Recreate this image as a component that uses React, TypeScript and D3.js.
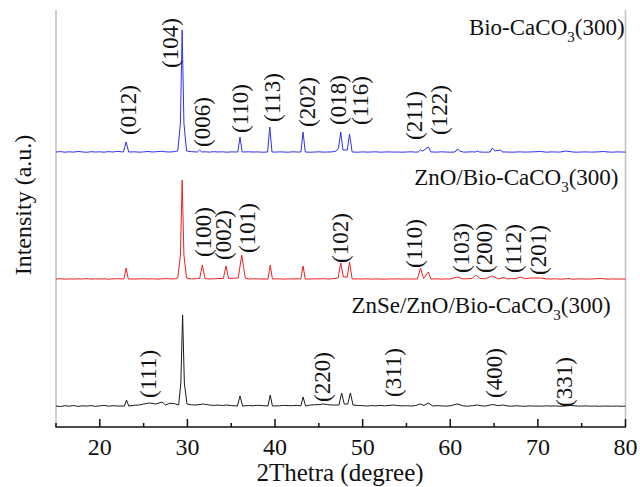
import React from "react";
import * as d3 from "d3";

// 2θ range and ticks
const xDomain = [15, 80];
const majorTicks = [20, 30, 40, 50, 60, 70, 80];
const minorTicks = [15, 25, 35, 45, 55, 65, 75];

// Baselines sampled every 0.5° from 15 to 80 (a.u.)
const blueBase = [
  1.0, 1.4, 0.8, 1.2, 0.9, 1.5, 1.1, 0.7, 1.3, 1.0,
  1.2, 0.8, 1.4, 1.0, 1.6, 1.1, 0.9, 1.3, 1.2, 0.8,
  1.1, 1.5, 1.0, 1.3, 1.7, 1.2, 1.0, 1.4, 0.9, 1.2,
  1.0, 1.3, 0.8, 1.1, 1.2, 0.9, 1.3, 1.0, 1.2, 0.8,
  1.1, 1.0, 1.3, 0.9, 1.2, 1.0, 1.1, 0.8, 1.0, 1.2,
  0.9, 1.1, 1.0, 0.8, 1.2, 1.0, 0.9, 1.1, 0.8, 1.0,
  1.2, 0.9, 1.0, 1.1, 0.8, 1.0, 0.9, 1.2, 1.0, 0.8,
  1.1, 0.9, 1.0, 1.2, 0.8, 1.0, 1.1, 0.9, 1.0, 0.8,
  1.0, 1.2, 0.9, 1.0, 0.8, 1.1, 1.0, 0.9, 1.2, 1.0,
  0.8, 1.0, 1.1, 0.9, 1.0, 1.2, 0.9, 1.0, 0.8, 1.1,
  1.0, 0.9, 1.2, 1.0, 0.8, 1.0, 1.1, 0.9, 1.0, 1.2,
  0.9, 1.0, 0.8, 1.1, 1.0, 0.9, 1.0, 1.2, 1.0, 0.8,
  1.0, 1.1, 0.9, 1.0, 1.2, 0.9, 1.0, 0.8, 1.1, 1.0, 0.9,
];
const redBase = [
  1.0, 1.3, 0.8, 1.1, 0.9, 1.2, 1.0, 1.4, 0.9, 1.1,
  1.0, 1.2, 0.8, 1.1, 1.3, 1.0, 0.9, 1.2, 1.0, 1.1,
  1.3, 1.0, 1.2, 0.9, 1.1, 1.4, 1.2, 1.0, 1.3, 1.1,
  1.2, 1.0, 1.4, 1.1, 1.3, 1.0, 1.2, 1.5, 1.1, 1.3,
  1.2, 1.4, 1.1, 1.3, 1.0, 1.2, 1.1, 1.0, 1.3, 1.1,
  1.0, 1.2, 0.9, 1.1, 1.0, 1.2, 0.9, 1.1, 1.0, 1.2,
  1.1, 1.3, 1.0, 1.2, 1.4, 1.1, 1.0, 1.2, 0.9, 1.1,
  1.0, 1.2, 0.9, 1.1, 1.0, 0.8, 1.1, 1.0, 1.2, 0.9,
  1.1, 1.0, 1.3, 1.0, 1.2, 1.1, 1.0, 1.2, 0.9, 1.1,
  1.0, 1.2, 1.4, 1.1, 1.3, 1.5, 1.2, 1.0, 1.3, 1.1,
  1.2, 1.0, 1.3, 1.1, 1.4, 1.2, 1.0, 1.3, 1.1, 1.0,
  1.2, 0.9, 1.1, 1.0, 1.2, 0.9, 1.0, 1.1, 0.8, 1.0,
  1.1, 0.9, 1.0, 1.2, 0.9, 1.0, 0.8, 1.1, 0.9, 1.0, 1.0,
];
const blackBase = [
  2.0, 1.5, 2.3, 1.8, 2.5, 1.6, 2.2, 1.9, 2.4, 1.7,
  2.1, 2.6, 1.8, 2.3, 2.0, 2.5, 1.9, 2.4, 2.8, 3.0,
  3.5, 3.8, 4.2, 4.0, 4.5, 4.2, 4.8, 4.4, 4.0, 3.8,
  3.5, 3.2, 3.0, 3.4, 2.8, 3.0, 2.6, 2.9, 2.5, 2.7,
  2.4, 2.8, 2.3, 2.6, 2.5, 2.2, 2.7, 2.4, 2.6, 2.3,
  2.5, 2.2, 2.6, 2.4, 2.3, 2.7, 2.5, 2.8, 3.0, 3.2,
  3.4, 3.6, 3.3, 3.0, 2.8, 2.6, 2.4, 2.7, 2.2, 2.5,
  2.3, 2.0, 2.4, 2.1, 2.6, 2.2, 2.5, 2.8, 2.4, 2.1,
  2.3, 2.0, 2.4, 2.1, 2.5, 2.2, 2.0, 2.4, 2.1, 1.9,
  2.2, 2.0, 2.4, 2.1, 1.8, 2.3, 2.0, 2.2, 1.9, 2.1,
  2.0, 2.3, 1.9, 2.1, 1.8, 2.2, 2.0, 1.7, 2.1, 1.9,
  2.0, 1.8, 2.2, 1.9, 2.1, 1.7, 2.0, 2.2, 1.8, 2.0,
  1.9, 2.1, 1.8, 2.0, 1.7, 2.1, 1.9, 1.8, 2.0, 1.7, 1.9,
];

// Peak points [2θ, intensity]
const bluePeaks: [number, number][] = [
  [22.7, 1], [23.0, 11], [23.3, 1],
  [28.9, 2], [29.2, 30], [29.4, 123], [29.6, 30], [29.9, 2],
  [31.15, 1], [31.4, 3], [31.65, 1],
  [35.75, 1], [36.0, 16], [36.25, 1],
  [39.15, 1], [39.4, 26], [39.65, 1],
  [42.95, 1], [43.2, 21], [43.45, 1],
  [47.0, 2], [47.25, 5], [47.5, 21], [47.75, 3], [48.25, 3], [48.5, 19], [48.8, 1],
  [56.35, 1], [56.6, 3], [56.85, 2], [57.5, 6], [57.8, 1],
  [60.55, 1], [60.8, 4], [61.1, 2], [62.85, 1], [63.1, 2], [63.35, 1],
  [64.55, 1], [64.8, 5], [65.1, 2], [65.7, 3], [66.0, 1],
  [70.3, 1.5], [73.2, 2], [77.5, 1.5],
];
const redPeaks: [number, number][] = [
  [22.75, 1], [23.0, 12], [23.25, 1],
  [28.9, 2], [29.2, 25], [29.4, 100], [29.6, 25], [29.9, 2],
  [31.4, 1.5], [31.7, 15], [32.0, 1.5],
  [34.1, 1.5], [34.4, 14], [34.7, 1.5],
  [35.8, 2], [36.2, 25], [36.6, 2],
  [39.2, 1], [39.45, 15], [39.7, 1],
  [42.95, 1], [43.2, 14], [43.45, 1],
  [47.2, 2], [47.5, 17], [47.8, 3], [48.25, 3], [48.5, 18], [48.8, 1],
  [56.25, 1], [56.6, 12], [56.95, 1.5], [57.5, 8], [57.8, 1],
  [60.8, 3], [62.9, 5], [63.4, 1.5], [64.8, 4], [66.1, 2.5], [68.0, 3],
  [69.2, 2], [70.3, 2], [73.4, 1.5], [77.2, 1.5],
];
const blackPeaks: [number, number][] = [
  [22.8, 2], [23.05, 8], [23.3, 2],
  [25.0, 4], [25.7, 5], [26.4, 4], [27.1, 6], [27.5, 3],
  [29.0, 3], [29.25, 25], [29.45, 93], [29.65, 25], [29.95, 4],
  [31.8, 4], [34.5, 3],
  [35.7, 2], [36.0, 12], [36.3, 2],
  [39.2, 2], [39.45, 13], [39.7, 2],
  [42.95, 2], [43.2, 11], [43.5, 2],
  [45.5, 4],
  [47.3, 3], [47.6, 15], [47.9, 4], [48.3, 4], [48.6, 15], [48.9, 3],
  [53.5, 3], [56.6, 4], [57.5, 5], [60.8, 4], [63.1, 3], [64.8, 3.5],
  [66.0, 3], [68.0, 2], [73.7, 2.5], [77.5, 2],
];

// Vertical stacking offsets (a.u.)
const offsets = { blue: 274, red: 147, black: 19 };

// Reflection labels: [text, 2θ, intensity level of label start]
const blueLabels: [string, number, number][] = [
  ["(012)", 23.23, 292], ["(104)", 28.03, 359], ["(006)", 31.69, 280],
  ["(110)", 36.03, 294], ["(113)", 39.69, 305], ["(202)", 43.69, 300],
  ["(018)", 47.23, 302], ["(116)", 49.74, 302], ["(211)", 55.8, 287],
  ["(122)", 58.66, 292],
];
const redLabels: [string, number, number][] = [
  ["(100)", 31.8, 170], ["(002)", 34.09, 167], ["(101)", 36.83, 174],
  ["(102)", 47.46, 164], ["(110)", 55.8, 159], ["(103)", 61.17, 154],
  ["(200)", 63.8, 154], ["(112)", 67.11, 154], ["(201)", 69.97, 152],
];
const blackLabels: [string, number, number][] = [
  ["(111)", 25.51, 29], ["(220)", 45.4, 25], ["(311)", 53.4, 30],
  ["(400)", 64.94, 29], ["(331)", 72.94, 20],
];

// Series titles: [prefix, subscript, suffix, 2θ right end, intensity level]
const titles: [string, string, string, number, number][] = [
  ["Bio-CaCO", "3", "(300)", 79.9, 392],
  ["ZnO/Bio-CaCO", "3", "(300)", 79.2, 242],
  ["ZnSe/ZnO/Bio-CaCO", "3", "(300)", 78.3, 114],
];

const W = 640;
const H = 487;
const FONT = '"Liberation Serif", "Times New Roman", "DejaVu Serif", serif';

function buildSeries(base: number[], peaks: [number, number][], off: number) {
  const pts: [number, number][] = [];
  base.forEach((v, i) => {
    const x = 15 + i * 0.5;
    if (!peaks.some((p) => Math.abs(p[0] - x) <= 0.301)) pts.push([x, v + off]);
  });
  peaks.forEach((p) => pts.push([p[0], p[1] + off]));
  pts.sort((a, b) => a[0] - b[0]);
  return pts;
}

export default function App() {
  const x = d3.scaleLinear().domain(xDomain).range([56, 625.5]);
  const y = d3.scaleLinear().domain([0, 417]).range([427, 10]);
  const line = d3
    .line<[number, number]>()
    .x((d) => x(d[0]))
    .y((d) => y(d[1]));

  const series = [
    { pts: buildSeries(blueBase, bluePeaks, offsets.blue), color: "#3030f0", labels: blueLabels },
    { pts: buildSeries(redBase, redPeaks, offsets.red), color: "#f02020", labels: redLabels },
    { pts: buildSeries(blackBase, blackPeaks, offsets.black), color: "#1a1a1a", labels: blackLabels },
  ];

  return (
    <svg
      width={W}
      height={H}
      style={{ position: "absolute", left: 0, top: 0, background: "#fff", fontFamily: FONT }}
    >
      <rect x={0} y={0} width={W} height={H} fill="#fff" />
      {/* frame */}
      <line x1={x(15)} x2={x(15)} y1={10} y2={427} stroke="#c0c0c0" strokeWidth={1.5} />
      <line x1={x(80)} x2={x(80)} y1={10} y2={427} stroke="#c0c0c0" strokeWidth={1.5} />
      <line x1={x(15) - 0.5} x2={x(80) + 0.5} y1={427} y2={427} stroke="#111" strokeWidth={1.6} />
      {majorTicks.map((t) => (
        <line key={"M" + t} x1={x(t)} x2={x(t)} y1={427} y2={419} stroke="#111" strokeWidth={1.5} />
      ))}
      {minorTicks.map((t) => (
        <line key={"m" + t} x1={x(t)} x2={x(t)} y1={427} y2={423} stroke="#111" strokeWidth={1.5} />
      ))}
      {majorTicks.map((t) => (
        <text key={"t" + t} x={x(t)} y={455} fontSize={24} textAnchor="middle" fill="#111">
          {t}
        </text>
      ))}
      {/* data */}
      {series.map((s, i) => (
        <path key={i} d={line(s.pts) || ""} fill="none" stroke={s.color} strokeWidth={1} />
      ))}
      {/* reflection labels */}
      {series.map((s, i) =>
        s.labels.map(([txt, tx, ty], j) => (
          <text
            key={i + "-" + j}
            transform={`translate(${x(tx)},${y(ty)}) rotate(-90)`}
            dy="0.35em"
            fontSize={23}
            fill="#111"
          >
            {txt}
          </text>
        ))
      )}
      {/* series titles */}
      {titles.map(([a, sub, b, tx, ty], i) => (
        <text key={"ti" + i} x={x(tx)} y={y(ty)} fontSize={23} textAnchor="end" fill="#111">
          {a}
          <tspan dy={7} fontSize={15}>
            {sub}
          </tspan>
          <tspan dy={-7}>{b}</tspan>
        </text>
      ))}
      {/* axis titles */}
      <text x={340} y={481} fontSize={25} textAnchor="middle" fill="#111">
        2Thetra (degree)
      </text>
      <text
        transform="translate(23,205) rotate(-90)"
        dy="0.35em"
        fontSize={24}
        textAnchor="middle"
        fill="#111"
      >
        Intensity (a.u.)
      </text>
    </svg>
  );
}
